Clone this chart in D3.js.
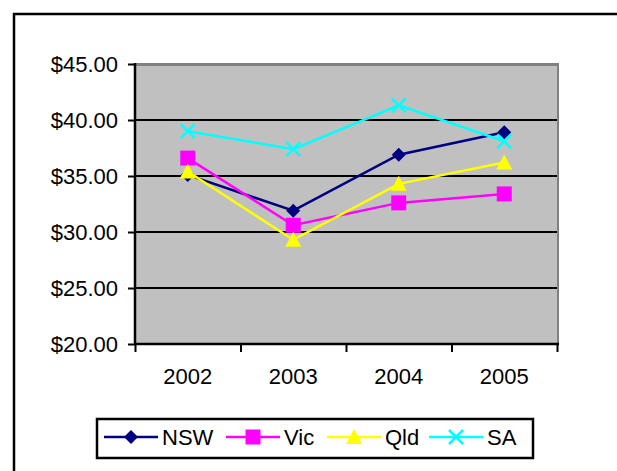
<!DOCTYPE html>
<html>
<head>
<meta charset="utf-8">
<script src="https://cdn.jsdelivr.net/npm/d3@7"></script>
<style>
  html, body { margin: 0; padding: 0; background: #fff; }
  svg { display: block; font-family: "Liberation Sans", Arial, sans-serif; }
</style>
</head>
<body>
<div id="chart"></div>
<script>
// chart data
const years = ['2002', '2003', '2004', '2005'];
const nsw = [35.1, 31.9, 36.9, 38.9];
const vic = [36.6, 30.6, 32.6, 33.4];
const qld = [35.4, 29.3, 34.3, 36.2];
const sa  = [39.0, 37.4, 41.3, 38.1];
const yTicks = [20, 25, 30, 35, 40, 45];

const series = [
  { name: 'NSW', values: nsw, color: '#000080', marker: 'diamond' },
  { name: 'Vic', values: vic, color: '#FF00FF', marker: 'square' },
  { name: 'Qld', values: qld, color: '#FFFF00', marker: 'triangle' },
  { name: 'SA',  values: sa,  color: '#00FFFF', marker: 'x' }
];

const W = 617, H = 471;
const plot = { left: 135, right: 557, top: 64, bottom: 344 };

const svg = d3.select('#chart').append('svg')
  .attr('width', W).attr('height', H);

// outer chart border (runs off the right and bottom edges)
svg.append('rect')
  .attr('x', 14).attr('y', 14)
  .attr('width', 640).attr('height', 500)
  .attr('fill', '#fff').attr('stroke', '#000').attr('stroke-width', 2.5);

const x = d3.scaleBand().domain(years).range([plot.left, plot.right]);
const xEdge = d3.scaleLinear().domain([0, years.length]).range([plot.left, plot.right]);
const y = d3.scaleLinear().domain([20, 45]).range([plot.bottom, plot.top]);

// plot area with gray shadow on top/right
svg.append('rect')
  .attr('x', plot.left).attr('y', plot.top - 1)
  .attr('width', plot.right - plot.left + 2).attr('height', plot.bottom - plot.top + 1)
  .attr('fill', '#808080');
svg.append('rect')
  .attr('x', plot.left).attr('y', plot.top + 2)
  .attr('width', plot.right - plot.left).attr('height', plot.bottom - plot.top - 2)
  .attr('fill', '#C0C0C0');

// gridlines
svg.append('g')
  .selectAll('line')
  .data(yTicks.filter(d => d > 20 && d < 45))
  .join('line')
  .attr('x1', plot.left).attr('x2', plot.right)
  .attr('y1', d => y(d)).attr('y2', d => y(d))
  .attr('stroke', '#000').attr('stroke-width', 2);

// y axis
const yAxis = svg.append('g')
  .attr('transform', `translate(${plot.left},0)`)
  .call(d3.axisLeft(y).tickValues(yTicks).tickSize(7).tickPadding(10)
    .tickFormat(d => '$' + d3.format('.2f')(d)));
yAxis.select('.domain').attr('stroke', '#000').attr('stroke-width', 2.5)
  .attr('d', `M0,${plot.top - 1}V${plot.bottom}`);
yAxis.selectAll('.tick line').attr('stroke', '#000').attr('stroke-width', 2);
yAxis.selectAll('.tick text').attr('fill', '#000')
  .style('font-size', '22px').attr('dy', '0.36em');

// x axis ticks at category boundaries
const xAxis = svg.append('g')
  .attr('transform', `translate(0,${plot.bottom})`)
  .call(d3.axisBottom(xEdge).ticks(years.length).tickSize(8).tickFormat(''));
xAxis.select('.domain').attr('stroke', '#000').attr('stroke-width', 2.5)
  .attr('d', `M${plot.left},0H${plot.right + 2}`);
xAxis.selectAll('.tick line').attr('stroke', '#000').attr('stroke-width', 2);

// x labels
const xLabels = svg.append('g')
  .attr('transform', `translate(0,${plot.bottom})`)
  .call(d3.axisBottom(x).tickSize(0).tickPadding(24));
xLabels.select('.domain').remove();
xLabels.selectAll('.tick text').attr('fill', '#000').style('font-size', '22px');

// markers
function drawMarker(g, type, color, cx, cy) {
  if (type === 'diamond') {
    g.append('path')
      .attr('d', `M${cx},${cy - 7}L${cx + 7},${cy}L${cx},${cy + 7}L${cx - 7},${cy}Z`)
      .attr('fill', color);
  } else if (type === 'square') {
    g.append('rect')
      .attr('x', cx - 7.5).attr('y', cy - 7.5)
      .attr('width', 15).attr('height', 15)
      .attr('fill', color);
  } else if (type === 'triangle') {
    g.append('path')
      .attr('d', `M${cx},${cy - 8}L${cx + 8},${cy + 7}L${cx - 8},${cy + 7}Z`)
      .attr('fill', color);
  } else {
    g.append('path')
      .attr('d', `M${cx - 7},${cy - 7}L${cx + 7},${cy + 7}M${cx + 7},${cy - 7}L${cx - 7},${cy + 7}`)
      .attr('stroke', color).attr('stroke-width', 2.5).attr('fill', 'none');
  }
}

const line = d3.line()
  .x((d, i) => x(years[i]) + x.bandwidth() / 2)
  .y(d => y(d));

series.forEach(s => {
  const g = svg.append('g');
  g.append('path')
    .attr('d', line(s.values))
    .attr('fill', 'none')
    .attr('stroke', s.color)
    .attr('stroke-width', 2.5);
  s.values.forEach((v, i) => {
    drawMarker(g, s.marker, s.color, x(years[i]) + x.bandwidth() / 2, y(v));
  });
});

// legend
const legend = svg.append('g');
legend.append('rect')
  .attr('x', 97).attr('y', 419)
  .attr('width', 436).attr('height', 39)
  .attr('fill', '#fff').attr('stroke', '#000').attr('stroke-width', 2.5);

const legendX = [104, 226, 327, 429];
const ly = 437;
series.forEach((s, i) => {
  const lx = legendX[i];
  legend.append('line')
    .attr('x1', lx).attr('x2', lx + 54)
    .attr('y1', ly).attr('y2', ly)
    .attr('stroke', s.color).attr('stroke-width', 2.5);
  drawMarker(legend, s.marker, s.color, lx + 27, ly);
  legend.append('text')
    .attr('x', lx + 58).attr('y', ly)
    .attr('dy', '0.36em')
    .style('font-size', '22px')
    .attr('fill', '#000')
    .text(s.name);
});
</script>
</body>
</html>
